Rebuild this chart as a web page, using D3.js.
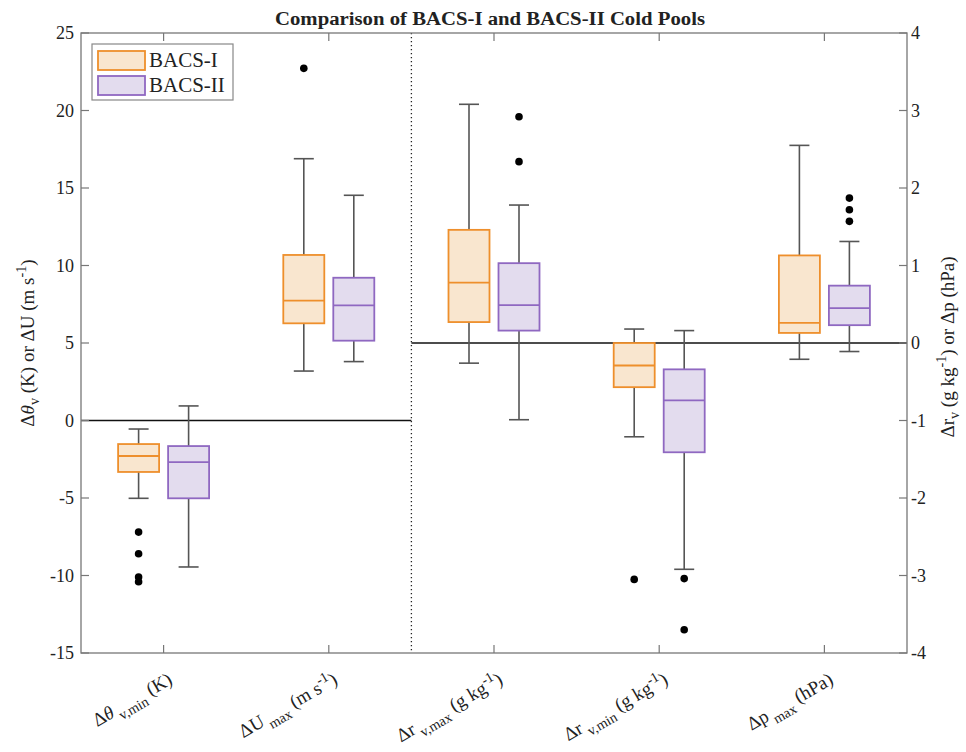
<!DOCTYPE html>
<html>
<head>
<meta charset="utf-8">
<script src="https://cdn.jsdelivr.net/npm/d3@7"></script>
<style>
  body { margin: 0; background: #fff; }
  text { font-family: "Liberation Serif", "Times New Roman", serif; fill: #222; }
</style>
</head>
<body>
<div id="chart"></div>
<script>
// categories: which y axis each one belongs to (L = left, R = right)
const categories = ["dthv_min", "dU_max", "drv_max", "drv_min", "dp_max"];
const catAxis = ["L", "L", "R", "R", "R"];
const groups = ["BACS-I", "BACS-II"];

// [lower whisker, q1, median, q3, upper whisker]
const bacs1Stats = [
    [-5.02, -3.32, -2.29, -1.52, -0.55],
    [3.19, 6.27, 7.73, 10.68, 16.89],
    [-0.26, 0.27, 0.78, 1.46, 3.08],
    [-1.21, -0.57, -0.29, 0.0, 0.18],
    [-0.21, 0.13, 0.26, 1.13, 2.55]
];
const bacs2Stats = [
    [-9.45, -5.02, -2.68, -1.65, 0.94],
    [3.80, 5.15, 7.43, 9.21, 14.53],
    [-0.99, 0.16, 0.49, 1.03, 1.78],
    [-2.92, -1.41, -0.74, -0.34, 0.16],
    [-0.11, 0.23, 0.45, 0.74, 1.31]
];
const bacs1Outliers = [[-7.2, -8.6, -10.1, -10.4], [22.72], [], [-3.05], []];
const bacs2Outliers = [[], [], [2.34, 2.92], [-3.04, -3.70], [1.57, 1.72, 1.87]];

const leftTicks = [-15, -10, -5, 0, 5, 10, 15, 20, 25];
const rightTicks = [-4, -3, -2, -1, 0, 1, 2, 3, 4];

const W = 966, H = 752;
const pLeft = 81, pRight = 907, pTop = 33, pBottom = 653;

const svg = d3.select("#chart").append("svg")
    .attr("width", W)
    .attr("height", H);

const x = d3.scaleLinear().domain([0.5, 5.5]).range([pLeft, pRight]);
const yL = d3.scaleLinear().domain([-15, 25]).range([pBottom, pTop]);
const yR = d3.scaleLinear().domain([-4, 4]).range([pBottom, pTop]);

const colors = {
    "BACS-I": { stroke: "#ee8f2c", fill: "#f9e6cf" },
    "BACS-II": { stroke: "#8f68c1", fill: "#e3dcee" }
};
const offsets = { "BACS-I": -25, "BACS-II": 25 };
const boxW = 41, capW = 20;

// zero lines + dotted divider
svg.append("line")
    .attr("x1", pLeft).attr("x2", x(2.5))
    .attr("y1", yL(0)).attr("y2", yL(0))
    .attr("stroke", "#111").attr("stroke-width", 1.6);
svg.append("line")
    .attr("x1", x(2.5)).attr("x2", pRight)
    .attr("y1", yR(0)).attr("y2", yR(0))
    .attr("stroke", "#111").attr("stroke-width", 1.6);
svg.append("line")
    .attr("x1", x(2.5)).attr("x2", x(2.5))
    .attr("y1", pTop).attr("y2", pBottom)
    .attr("stroke", "#222").attr("stroke-width", 1.3)
    .attr("stroke-dasharray", "1.3,2.7");

// boxes
function drawBoxes(group, stats, outliers) {
    const g = svg.append("g");
    stats.forEach((s, i) => {
        const y = catAxis[i] == "L" ? yL : yR;
        const cx = x(i + 1) + offsets[group];
        const c = colors[group];
        // whiskers
        g.append("line")
            .attr("x1", cx).attr("x2", cx)
            .attr("y1", y(s[0])).attr("y2", y(s[1]))
            .attr("stroke", "#555").attr("stroke-width", 1.6);
        g.append("line")
            .attr("x1", cx).attr("x2", cx)
            .attr("y1", y(s[3])).attr("y2", y(s[4]))
            .attr("stroke", "#555").attr("stroke-width", 1.6);
        [s[0], s[4]].forEach(v => {
            g.append("line")
                .attr("x1", cx - capW / 2).attr("x2", cx + capW / 2)
                .attr("y1", y(v)).attr("y2", y(v))
                .attr("stroke", "#555").attr("stroke-width", 1.6);
        });
        g.append("rect")
            .attr("x", cx - boxW / 2)
            .attr("y", y(s[3]))
            .attr("width", boxW)
            .attr("height", y(s[1]) - y(s[3]))
            .attr("fill", c.fill)
            .attr("stroke", c.stroke)
            .attr("stroke-width", 1.8);
        g.append("line")
            .attr("x1", cx - boxW / 2).attr("x2", cx + boxW / 2)
            .attr("y1", y(s[2])).attr("y2", y(s[2]))
            .attr("stroke", c.stroke).attr("stroke-width", 1.8);
        g.selectAll(null)
            .data(outliers[i])
            .join("circle")
            .attr("cx", cx)
            .attr("cy", d => y(d))
            .attr("r", 3.8)
            .attr("fill", "#000");
    });
}
drawBoxes("BACS-I", bacs1Stats, bacs1Outliers);
drawBoxes("BACS-II", bacs2Stats, bacs2Outliers);

// frame
const axisColor = "#777";
svg.append("rect")
    .attr("x", pLeft).attr("y", pTop)
    .attr("width", pRight - pLeft).attr("height", pBottom - pTop)
    .attr("fill", "none")
    .attr("stroke", axisColor).attr("stroke-width", 1.3);

// left axis
svg.selectAll(".ltick")
    .data(leftTicks)
    .join("line")
    .attr("x1", pLeft).attr("x2", pLeft + 8)
    .attr("y1", d => yL(d)).attr("y2", d => yL(d))
    .attr("stroke", axisColor).attr("stroke-width", 1.2);
svg.selectAll(".llab")
    .data(leftTicks)
    .join("text")
    .attr("x", pLeft - 7)
    .attr("y", d => yL(d) + 6)
    .attr("text-anchor", "end")
    .attr("font-size", 18)
    .text(d => d);

// right axis
svg.selectAll(".rtick")
    .data(rightTicks)
    .join("line")
    .attr("x1", pRight - 8).attr("x2", pRight)
    .attr("y1", d => yR(d)).attr("y2", d => yR(d))
    .attr("stroke", axisColor).attr("stroke-width", 1.2);
svg.selectAll(".rlab")
    .data(rightTicks)
    .join("text")
    .attr("x", pRight + 4)
    .attr("y", d => yR(d) + 6)
    .attr("font-size", 18)
    .text(d => d);

// x ticks (bottom and top)
[1, 2, 3, 4, 5].forEach(i => {
    svg.append("line")
        .attr("x1", x(i)).attr("x2", x(i))
        .attr("y1", pBottom).attr("y2", pBottom - 8)
        .attr("stroke", axisColor).attr("stroke-width", 1.2);
    svg.append("line")
        .attr("x1", x(i)).attr("x2", x(i))
        .attr("y1", pTop).attr("y2", pTop + 8)
        .attr("stroke", axisColor).attr("stroke-width", 1.2);
});

// rich text helper: parts are [text, "n" | "sub" | "sup", italic?]
function rich(sel, parts, size, subShift) {
    let shift = 0;
    const sub = subShift || 0.35;
    parts.forEach(p => {
        const t = sel.append("tspan").text(p[0]);
        let target = 0, fs = size;
        if (p[1] == "sub") { target = size * sub; fs = size * 0.75; }
        if (p[1] == "sup") { target = -size * 0.4; fs = size * 0.75; }
        t.attr("dy", target - shift).attr("font-size", fs);
        if (p[2]) t.attr("font-style", "italic");
        shift = target;
    });
}

const xLabels = [
    [["Δ", "n"], ["θ", "n", true], [" v,min", "sub"], [" (K)", "n"]],
    [["ΔU", "n"], [" max", "sub"], [" (m s", "n"], ["-1", "sup"], [")", "n"]],
    [["Δr", "n"], [" v,max", "sub"], [" (g kg", "n"], ["-1", "sup"], [")", "n"]],
    [["Δr", "n"], [" v,min", "sub"], [" (g kg", "n"], ["-1", "sup"], [")", "n"]],
    [["Δp", "n"], [" max", "sub"], [" (hPa)", "n"]]
];
xLabels.forEach((parts, i) => {
    const t = svg.append("text")
        .attr("text-anchor", "end")
        .attr("font-size", 19)
        .attr("transform", `translate(${x(i + 1) + 10},${pBottom + 30}) rotate(-30)`);
    rich(t, parts, 19);
});

// y labels
const yl = svg.append("text")
    .attr("text-anchor", "middle")
    .attr("transform", `translate(34,${(pTop + pBottom) / 2}) rotate(-90)`);
rich(yl, [["Δ", "n"], ["θ", "n", true], ["v", "sub"], [" (K) or ΔU (m s", "n"], ["-1", "sup"], [")", "n"]], 19, 0.28);

const yr = svg.append("text")
    .attr("text-anchor", "middle")
    .attr("transform", `translate(954,${(pTop + pBottom) / 2 + 4}) rotate(-90)`);
rich(yr, [["Δr", "n"], ["v", "sub"], [" (g kg", "n"], ["-1", "sup"], [") or Δp (hPa)", "n"]], 19, 0.28);

// title
svg.append("text")
    .attr("x", 490)
    .attr("y", 25)
    .attr("text-anchor", "middle")
    .attr("font-size", 18)
    .attr("font-weight", "bold")
    .attr("textLength", 430)
    .attr("lengthAdjust", "spacingAndGlyphs")
    .text("Comparison of BACS-I and BACS-II Cold Pools");

// legend
const leg = svg.append("g");
leg.append("rect")
    .attr("x", 92).attr("y", 44)
    .attr("width", 141).attr("height", 56)
    .attr("fill", "#fff")
    .attr("stroke", "#888").attr("stroke-width", 1.2);
groups.forEach((gname, i) => {
    leg.append("rect")
        .attr("x", 98).attr("y", 51 + i * 25)
        .attr("width", 47).attr("height", 19)
        .attr("fill", colors[gname].fill)
        .attr("stroke", colors[gname].stroke)
        .attr("stroke-width", 1.8);
    leg.append("text")
        .attr("x", 149).attr("y", 67 + i * 25)
        .attr("font-size", 21)
        .text(gname);
});
</script>
</body>
</html>
